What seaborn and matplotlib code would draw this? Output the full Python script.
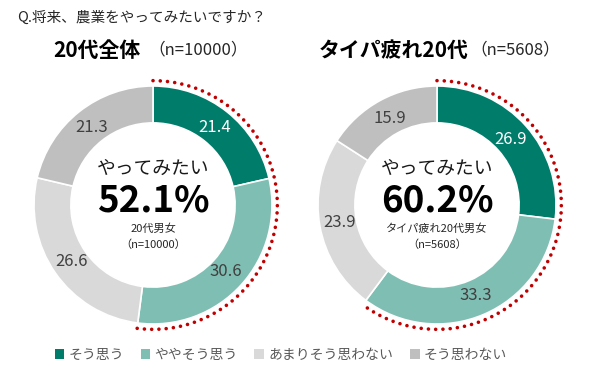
import numpy as np
import matplotlib
matplotlib.use("Agg")
import matplotlib.pyplot as plt
import seaborn as sns
from matplotlib.patches import Patch

sns.set_theme(style="white")
plt.rcParams['font.family'] = ['Noto Sans CJK JP', 'DejaVu Sans']

categories = ["そう思う", "ややそう思う", "あまりそう思わない", "そう思わない"]
colors = ["#007C6B", "#7FBFB3", "#D9D9D9", "#BFBFBF"]
all20_values = [21.4, 30.6, 26.6, 21.3]
taipa_values = [26.9, 33.3, 23.9, 15.9]
titles = ["20代全体", "タイパ疲れ20代"]
title_n = ["（n=10000）", "（n=5608）"]
center_pct = ["52.1%", "60.2%"]
center_sub = ["20代男女", "タイパ疲れ20代男女"]
center_n = ["（n=10000）", "（n=5608）"]
label_colors = ["white", "#404040", "#404040", "#404040"]

W, H = 600, 378
fig = plt.figure(figsize=(6, 3.78), dpi=100)
fig.patch.set_facecolor("white")

fig.text(17 / W, 1 - 18 / H, "Q.将来、農業をやってみたいですか？", fontsize=10.5,
         color="#262626", va="center", ha="left")

R = 119.0
half = 140.0
centers = [(153, 205), (437, 205)]
datasets = [all20_values, taipa_values]

for i, (cx, cy) in enumerate(centers):
    ax = fig.add_axes([(cx - half) / W, (H - cy - half) / H, 2 * half / W, 2 * half / H])
    vals = datasets[i]
    ax.pie(vals, colors=colors, startangle=90, counterclock=False, radius=1.0,
           wedgeprops=dict(width=0.31, edgecolor="white", linewidth=1.2))
    lim = half / R
    ax.set_xlim(-lim, lim)
    ax.set_ylim(-lim, lim)
    ax.set_aspect("equal")
    ax.axis("off")
    # labels
    total = sum(vals)
    cum = 0
    for v, lc in zip(vals, label_colors):
        mid = 90 - 360 * (cum + v / 2) / total
        cum += v
        r = 0.83
        ax.text(r * np.cos(np.radians(mid)), r * np.sin(np.radians(mid)), f"{v:.1f}",
                ha="center", va="center", fontsize=12, color=lc)
    # dotted arc for positive share
    pos = (vals[0] + vals[1]) / total
    th = np.linspace(90, 90 - 360 * pos, 300)
    rr = 1.045
    ax.plot(rr * np.cos(np.radians(th)), rr * np.sin(np.radians(th)), color="#C00000",
            linewidth=2.6, linestyle=(0, (0.01, 2.0)), dash_capstyle="round", clip_on=False)
    # center texts
    ax.text(0, 0.31, "やってみたい", ha="center", va="center", fontsize=13.5, color="#1a1a1a")
    ax.text(0, 0.03, center_pct[i], ha="center", va="center", fontsize=26.5,
            fontweight="bold", color="#000000")
    ax.text(0, -0.2, center_sub[i], ha="center", va="center", fontsize=8, color="#262626")
    ax.text(0, -0.33, center_n[i], ha="center", va="center", fontsize=8, color="#262626")

# subtitles
fig.text(97 / W, 1 - 50 / H, titles[0], fontsize=15, fontweight="bold", ha="center",
         va="center", color="#000000")
fig.text(198 / W, 1 - 50 / H, title_n[0], fontsize=12, ha="center", va="center",
         color="#262626")
fig.text(394 / W, 1 - 50 / H, titles[1], fontsize=15, fontweight="bold", ha="center",
         va="center", color="#000000")
fig.text(515 / W, 1 - 50 / H, title_n[1], fontsize=12, ha="center", va="center",
         color="#262626")

handles = [Patch(facecolor=c, edgecolor="none") for c in colors]
fig.legend(handles, categories, loc="center", bbox_to_anchor=(0.468, 1 - 355 / H), ncol=4,
           frameon=False, fontsize=10, handlelength=0.7, handleheight=0.7,
           handletextpad=0.3, columnspacing=1.2, labelcolor="#595959")

fig.savefig("out.png", dpi=100, facecolor="white")
